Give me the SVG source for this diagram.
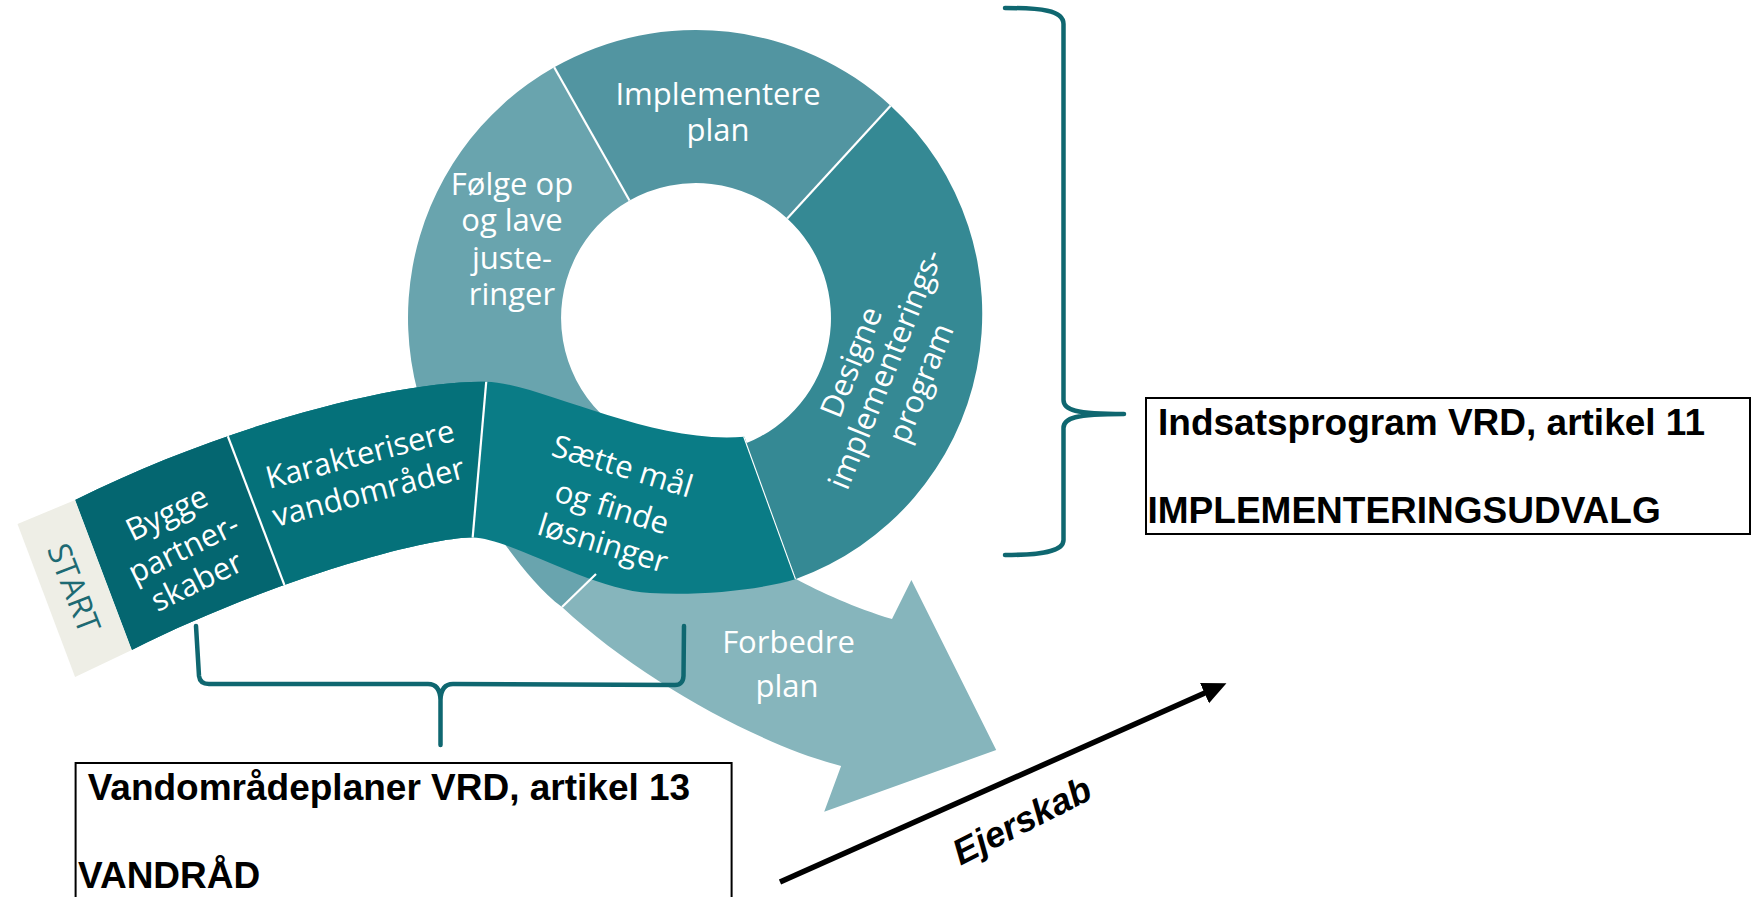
<svg xmlns="http://www.w3.org/2000/svg" width="1752" height="897" viewBox="0 0 1752 897">
  <style>
    .t { font-family: "Open Sans", "Noto Sans", sans-serif; font-size: 31px; fill: #ffffff; text-anchor: middle; }
    .b { font-family: "Liberation Sans", Arial, sans-serif; font-weight: bold; font-size: 37px; fill: #000000; }
    .div { stroke: #ffffff; stroke-width: 2.2; fill: none; }
    .brace { stroke: #0f6770; stroke-width: 4.5; fill: none; stroke-linecap: round; stroke-linejoin: round; }
    .box { fill: #ffffff; stroke: #000000; stroke-width: 2; }
  </style>
  <defs>
    <clipPath id="bandClip">
      <path d="M75.1,500 C225,425 400,380 486,381.7 C540,383 650,445 744.4,436.8 L796,579 C760,590 700,596 650,593 C590,590 510,538 472.7,537.5 C420,537.5 260,585 131.8,650 Z"/>
    </clipPath>
    <marker id="arrowHead" markerUnits="userSpaceOnUse" markerWidth="26" markerHeight="24" refX="12" refY="11" orient="auto">
      <path d="M0,0 L24,11 L0,22 Z" fill="#000000"/>
    </marker>
  </defs>
  <rect width="1752" height="897" fill="#ffffff"/>

  <g id="ring-folge">
    <path d="M554.2,67.3 A288,288 0 0 0 475.4,503.1 C488.3,518.4 525,580 562,607 L596,574 L650,540 L672.6,450.9 A135,135 0 0 1 629.5,200.5 Z" fill="#69a4ae"/>
  </g>
  <g id="ring-implementere">
    <path d="M554.2,67.3 A288,288 0 0 1 890.6,105.7 L787.2,218.5 A135,135 0 0 0 629.5,200.5 Z" fill="#5295a1"/>
  </g>
  <g id="ring-designe">
    <path d="M890.6,105.7 A282,282 0 0 1 796,579 L745.5,443.6 A135,135 0 0 0 787.2,218.5 Z" fill="#358994"/>
  </g>
  <g id="arrow-forbedre">
    <path d="M562,607 L596,574 L650,560 L780,570 L796,579 C820,592 855,608 892,619 L911.4,580 L996.2,750 L824.2,811.7 L841.1,766 C760,745 640,680 562,607 Z" fill="#86b5bc"/>
  </g>

  <g id="band">
    <g clip-path="url(#bandClip)">
      <rect x="0" y="300" width="900" height="400" fill="#0a7c86"/>
      <polygon points="172,289.3 499.8,226.7 459,691.7 339.4,729.4" fill="#05717a"/>
      <polygon points="0,200 172,289.3 339.4,729.4 0,800" fill="#046670"/>
      <line class="div" x1="200" y1="363" x2="311" y2="655"/>
      <line class="div" x1="493" y1="304" x2="466" y2="614"/>
      <line class="div" x1="720" y1="370" x2="820" y2="645"/>
    </g>
  </g>
  <g id="start">
    <polygon points="17.5,524 75.1,500 131.8,650 75.1,677" fill="#eeeee6"/>
    <text transform="translate(73.7,588.3) rotate(69)" y="11" style="font-family:'Open Sans','Noto Sans',sans-serif;font-size:32px;fill:#1d6a73;text-anchor:middle">START</text>
  </g>

  <g id="ring-dividers">
    <line class="div" x1="554.2" y1="67.3" x2="629.5" y2="200.5"/>
    <line class="div" x1="890.6" y1="105.7" x2="787.2" y2="218.5"/>
    <line class="div" x1="562" y1="607" x2="596" y2="574"/>
  </g>

  <g id="label-implementere">
    <text class="t" x="718" y="105">Implementere</text>
    <text class="t" x="718" y="141">plan</text>
  </g>
  <g id="label-folge">
    <text class="t" x="512" y="195">Følge op</text>
    <text class="t" x="512" y="231">og lave</text>
    <text class="t" x="512" y="269">juste-</text>
    <text class="t" x="512" y="305">ringer</text>
  </g>
  <g id="label-designe">
    <text class="t" transform="translate(851,362) rotate(-68)" y="11">Designe</text>
    <text class="t" transform="translate(885,369) rotate(-68)" y="11">implementerings-</text>
    <text class="t" transform="translate(920.5,383) rotate(-68)" y="11">program</text>
  </g>
  <g id="label-saette">
    <text class="t" transform="translate(622.5,466) rotate(17)" y="11">Sætte mål</text>
    <text class="t" transform="translate(612,507) rotate(17)" y="11">og finde</text>
    <text class="t" transform="translate(603,543) rotate(17)" y="11">løsninger</text>
  </g>
  <g id="label-karakterisere">
    <text class="t" transform="translate(360,454) rotate(-14.5)" y="11">Karakterisere</text>
    <text class="t" transform="translate(368.4,491.7) rotate(-14.5)" y="11">vandområder</text>
  </g>
  <g id="label-bygge">
    <text class="t" transform="translate(166.7,513) rotate(-26)" y="11">Bygge</text>
    <text class="t" transform="translate(183.5,548) rotate(-26)" y="11">partner-</text>
    <text class="t" transform="translate(196.5,581) rotate(-26)" y="11">skaber</text>
  </g>
  <g id="label-forbedre">
    <text class="t" x="788.5" y="653">Forbedre</text>
    <text class="t" x="787" y="697">plan</text>
  </g>

  <g id="connectors">
    <path class="brace" d="M1005,8 C1040,8 1063.5,10 1063.5,24 L1063.5,400 C1063.5,410 1075,414 1124,414 C1075,414 1063.5,418 1063.5,428 L1063.5,540 C1063.5,552 1040,555 1005,555"/>
    <path class="brace" d="M196,626 L199,676 Q200,684 209,684 L428,684 Q440,684 440.5,700 L440.5,745 M440.5,700 Q441,684 453,684 L675,685 Q683,685 683.5,676 L684,626"/>
    <line x1="780" y1="882" x2="1215.5" y2="688.2" stroke="#000000" stroke-width="5.5" marker-end="url(#arrowHead)"/>
  </g>

  <g id="box-indsats">
    <rect class="box" x="1146" y="398" width="604" height="136"/>
    <text class="b" x="1158" y="435">Indsatsprogram VRD, artikel 11</text>
    <text class="b" x="1147.5" y="523">IMPLEMENTERINGSUDVALG</text>
  </g>
  <g id="box-vandomrade">
    <rect class="box" x="75.6" y="763" width="656" height="150"/>
    <text class="b" x="87.7" y="800">Vandområdeplaner VRD, artikel 13</text>
    <text class="b" x="78" y="888">VANDRÅD</text>
  </g>
  <g id="label-ejerskab">
    <text transform="translate(1022,821) rotate(-27)" y="12" style="font-family:'Liberation Sans',Arial,sans-serif;font-weight:bold;font-style:italic;font-size:36px;fill:#000000;text-anchor:middle">Ejerskab</text>
  </g>
</svg>
